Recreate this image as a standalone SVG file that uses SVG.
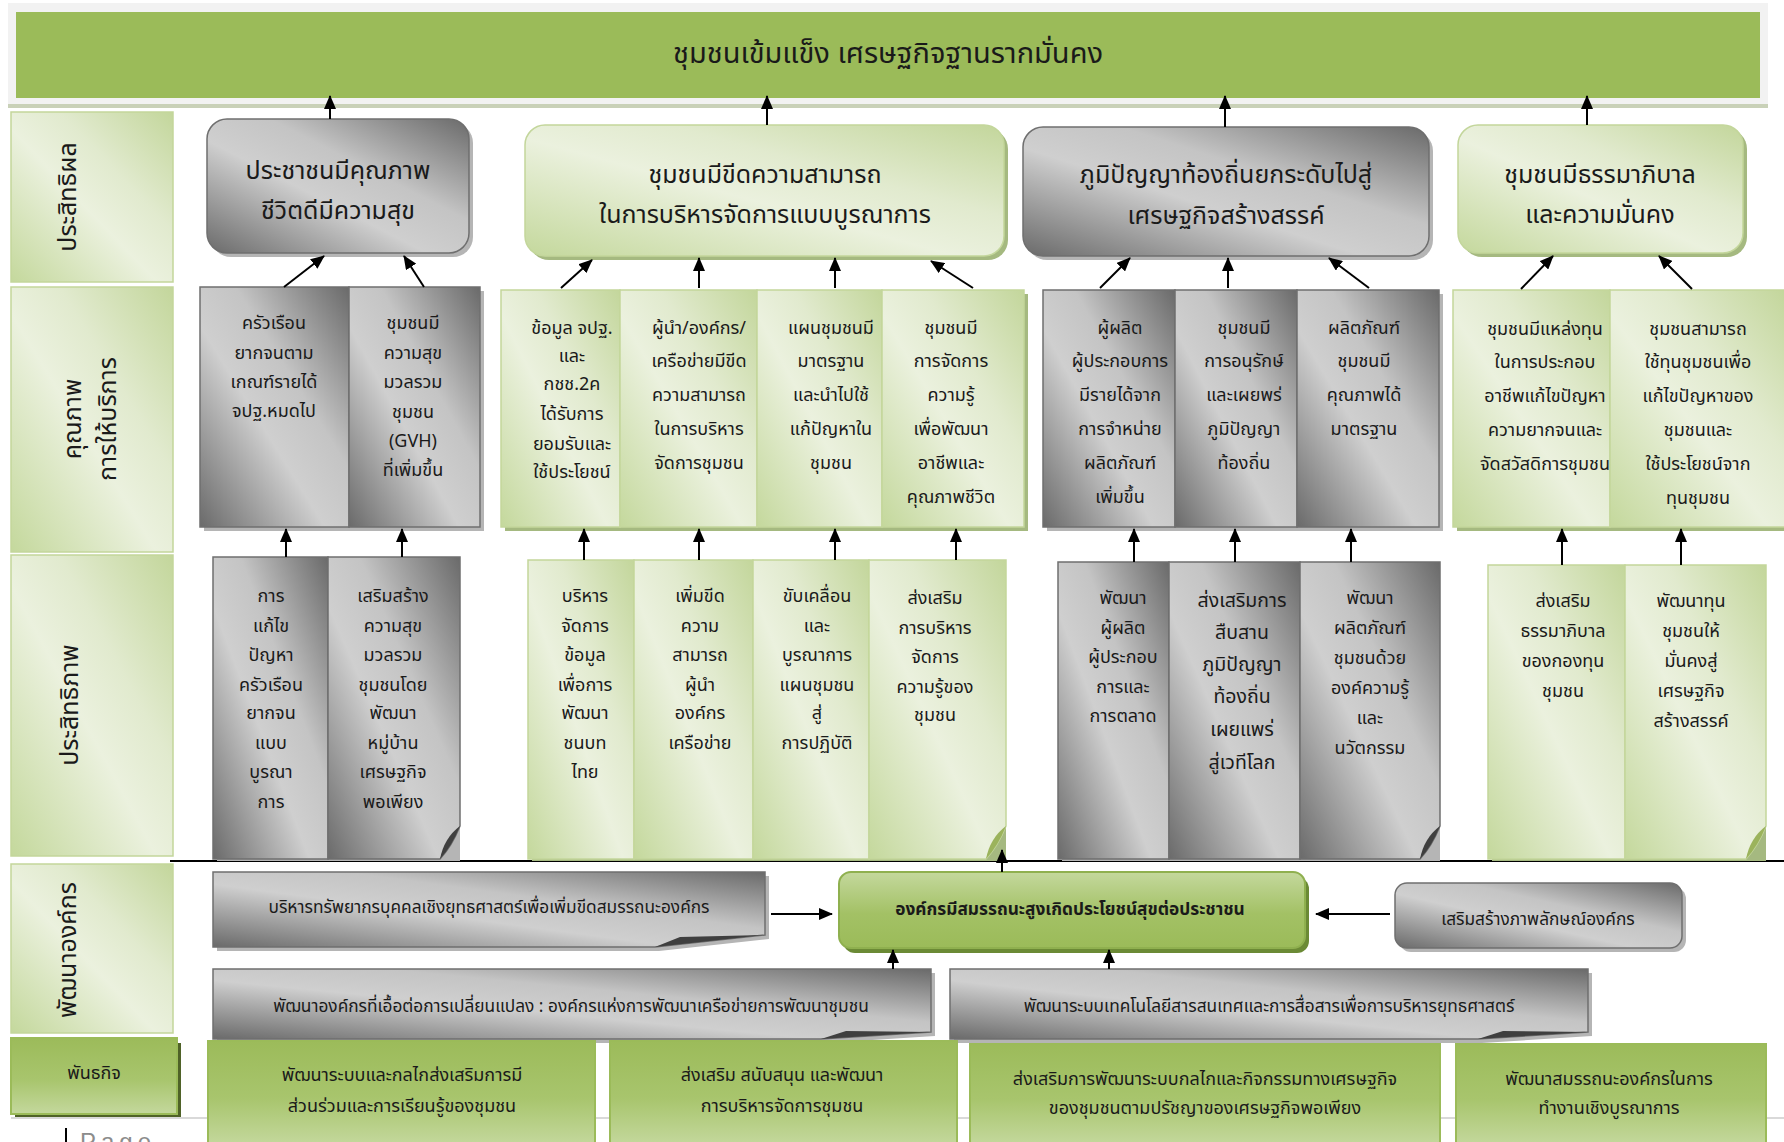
<svg xmlns="http://www.w3.org/2000/svg" width="1784" height="1142" viewBox="0 0 1784 1142">
<defs>
<linearGradient id="gGray" x1="0" y1="1" x2="1" y2="0">
<stop offset="0" stop-color="#6a6a6a"/><stop offset="0.42" stop-color="#cfcfcf"/><stop offset="0.62" stop-color="#c4c4c4"/><stop offset="1" stop-color="#6a6a6a"/>
</linearGradient>
<linearGradient id="gGreen" x1="0" y1="1" x2="1" y2="0">
<stop offset="0" stop-color="#c4d89c"/><stop offset="0.45" stop-color="#ebf1de"/><stop offset="0.65" stop-color="#e1eace"/><stop offset="1" stop-color="#c3d69b"/>
</linearGradient>
<linearGradient id="gDark" x1="0" y1="0" x2="0" y2="1">
<stop offset="0" stop-color="#9cbb5a"/><stop offset="0.55" stop-color="#a8c56d"/><stop offset="1" stop-color="#c4d89d"/>
</linearGradient>
<linearGradient id="gKey" x1="0" y1="0" x2="0" y2="1">
<stop offset="0" stop-color="#c4d89d"/><stop offset="0.55" stop-color="#a3c165"/><stop offset="1" stop-color="#9bbb59"/>
</linearGradient>
<marker id="ah" viewBox="0 0 14 12" refX="13" refY="6" markerWidth="14" markerHeight="12" markerUnits="userSpaceOnUse" orient="auto"><path d="M0 0 L14 6 L0 12 Z" fill="#000"/></marker>
<style>
.t{font-family:"Noto Sans Thai","Noto Sans","DejaVu Sans","Liberation Sans",sans-serif;fill:#1a1a1a;text-anchor:middle}
.s17{font-size:18px}
.s18{font-size:18px}
.so{font-size:17.3px}
.s24{font-size:25px}
.b{font-weight:bold}
.gry{fill:url(#gGray);stroke:#6f6f6f;stroke-width:1.5}
.grn{fill:url(#gGreen);stroke:#c3d69b;stroke-width:1.5}
.dk{fill:url(#gDark);stroke:#9bbb59;stroke-width:2}
.key{fill:url(#gKey);stroke:#8fb04f;stroke-width:2}
.sh{fill:#b5b5b5}
.shg{fill:#a5b980}
.fold{fill:#3f3f3f}
.foldg{fill:#9bb35c}
.con{stroke:#000;stroke-width:2;fill:none;marker-end:url(#ah)}
</style>
</defs>

<rect x="0" y="0" width="1784" height="1142" fill="#ffffff"/>

<!-- banner -->
<g id="banner">
<rect x="8" y="3" width="1760" height="103" fill="#f2f2f2"/>
<rect x="8" y="104" width="1760" height="4" fill="#c9d1b8"/>
<rect x="16" y="12" width="1744" height="86" fill="#9bbb59"/>
<text class="t" x="888" y="63" style="font-size:29px">ชุมชนเข้มแข็ง เศรษฐกิจฐานรากมั่นคง</text>
</g>

<!-- left labels -->
<g id="lbl-effectiveness">
<rect x="11" y="112" width="162" height="170" class="grn"/>
<text class="t s24" transform="rotate(-90 68 197)" x="68" y="205">ประสิทธิผล</text>
</g>
<g id="lbl-quality">
<rect x="11" y="287" width="162" height="265" class="grn"/>
<text class="t s24" transform="rotate(-90 73 419)" x="73" y="427">คุณภาพ</text>
<text class="t s24" transform="rotate(-90 108 419)" x="108" y="427">การให้บริการ</text>
</g>
<g id="lbl-efficiency">
<rect x="11" y="555" width="162" height="301" class="grn"/>
<text class="t s24" transform="rotate(-90 70 705)" x="70" y="713">ประสิทธิภาพ</text>
</g>
<g id="lbl-orgdev">
<rect x="11" y="864" width="162" height="169" class="grn"/>
<text class="t s24" transform="rotate(-90 68 950)" x="68" y="958">พัฒนาองค์กร</text>
</g>
<g id="lbl-mission">
<rect x="15" y="1043" width="166" height="76" fill="#4f6228"/>
<rect x="11" y="1038" width="166" height="76" class="dk"/>
<text class="t s18" x="94" y="1079">พันธกิจ</text>
</g>

<!-- separator and footer -->
<line x1="170" y1="861" x2="1784" y2="861" stroke="#000" stroke-width="2"/>
<line x1="11" y1="1118" x2="1784" y2="1118" stroke="#d9d9d9" stroke-width="2"/>
<line x1="66" y1="1128" x2="66" y2="1142" stroke="#000" stroke-width="2"/>
<text x="80" y="1150" style="font-family:'Liberation Sans',sans-serif;font-size:24px;letter-spacing:5px;fill:#8c8c8c">Page</text>

<!-- outcome boxes -->
<g id="out1">
<rect x="211" y="123" width="262" height="134" rx="20" class="sh"/>
<rect x="207" y="119" width="262" height="134" rx="20" class="gry" stroke-width="2.5"/>
<text class="t s24" x="338" y="179">ประชาชนมีคุณภาพ</text>
<text class="t s24" x="338" y="219">ชีวิตดีมีความสุข</text>
</g>
<g id="out2">
<rect x="529" y="129" width="479" height="131" rx="20" class="shg"/>
<rect x="525" y="125" width="479" height="131" rx="20" class="grn" stroke-width="2.5"/>
<text class="t s24" x="765" y="183">ชุมชนมีขีดความสามารถ</text>
<text class="t s24" x="765" y="223">ในการบริหารจัดการแบบบูรณาการ</text>
</g>
<g id="out3">
<rect x="1027" y="131" width="406" height="129" rx="20" class="sh"/>
<rect x="1023" y="127" width="406" height="129" rx="20" class="gry" stroke-width="2.5"/>
<text class="t s24" x="1226" y="183">ภูมิปัญญาท้องถิ่นยกระดับไปสู่</text>
<text class="t s24" x="1226" y="224">เศรษฐกิจสร้างสรรค์</text>
</g>
<g id="out4">
<rect x="1462" y="129" width="285" height="128" rx="20" class="shg"/>
<rect x="1458" y="125" width="285" height="128" rx="20" class="grn" stroke-width="2.5"/>
<text class="t s24" x="1600" y="183">ชุมชนมีธรรมาภิบาล</text>
<text class="t s24" x="1600" y="223">และความมั่นคง</text>
</g>

<!-- quality row -->
<g id="q-a">
<rect x="204" y="291" width="280" height="240" class="sh"/>
<rect x="200" y="287" width="149" height="240" class="gry"/>
<rect x="349" y="287" width="131" height="240" class="gry"/>
</g>
<g id="q-a1"><text class="t s17"><tspan x="274" y="329">ครัวเรือน</tspan><tspan x="274" y="359">ยากจนตาม</tspan><tspan x="274" y="388">เกณฑ์รายได้</tspan><tspan x="274" y="417">จปฐ.หมดไป</tspan></text></g>
<g id="q-a2"><text class="t s17"><tspan x="413" y="329">ชุมชนมี</tspan><tspan x="413" y="359">ความสุข</tspan><tspan x="413" y="388">มวลรวม</tspan><tspan x="413" y="418">ชุมชน</tspan><tspan x="413" y="447">(GVH)</tspan><tspan x="413" y="476">ที่เพิ่มขึ้น</tspan></text></g>

<g id="q-b">
<rect x="505" y="294" width="523" height="237" class="shg"/>
<rect x="501" y="290" width="119" height="237" class="grn"/>
<rect x="620" y="290" width="137" height="237" class="grn"/>
<rect x="757" y="290" width="125" height="237" class="grn"/>
<rect x="882" y="290" width="142" height="237" class="grn"/>
</g>
<g id="q-b1"><text class="t s17"><tspan x="572" y="334">ข้อมูล จปฐ.</tspan><tspan x="572" y="362">และ</tspan><tspan x="572" y="390">กชช.2ค</tspan><tspan x="572" y="420">ได้รับการ</tspan><tspan x="572" y="450">ยอมรับและ</tspan><tspan x="572" y="478">ใช้ประโยชน์</tspan></text></g>
<g id="q-b2"><text class="t s17"><tspan x="699" y="334">ผู้นำ/องค์กร/</tspan><tspan x="699" y="367">เครือข่ายมีขีด</tspan><tspan x="699" y="401">ความสามารถ</tspan><tspan x="699" y="435">ในการบริหาร</tspan><tspan x="699" y="469">จัดการชุมชน</tspan></text></g>
<g id="q-b3"><text class="t s17"><tspan x="831" y="334">แผนชุมชนมี</tspan><tspan x="831" y="367">มาตรฐาน</tspan><tspan x="831" y="401">และนำไปใช้</tspan><tspan x="831" y="435">แก้ปัญหาใน</tspan><tspan x="831" y="469">ชุมชน</tspan></text></g>
<g id="q-b4"><text class="t s17"><tspan x="951" y="334">ชุมชนมี</tspan><tspan x="951" y="367">การจัดการ</tspan><tspan x="951" y="401">ความรู้</tspan><tspan x="951" y="435">เพื่อพัฒนา</tspan><tspan x="951" y="469">อาชีพและ</tspan><tspan x="951" y="503">คุณภาพชีวิต</tspan></text></g>

<g id="q-c">
<rect x="1047" y="294" width="396" height="237" class="sh"/>
<rect x="1043" y="290" width="132" height="237" class="gry"/>
<rect x="1175" y="290" width="122" height="237" class="gry"/>
<rect x="1297" y="290" width="142" height="237" class="gry"/>
</g>
<g id="q-c1"><text class="t s17"><tspan x="1120" y="334">ผู้ผลิต</tspan><tspan x="1120" y="367">ผู้ประกอบการ</tspan><tspan x="1120" y="401">มีรายได้จาก</tspan><tspan x="1120" y="435">การจำหน่าย</tspan><tspan x="1120" y="469">ผลิตภัณฑ์</tspan><tspan x="1120" y="503">เพิ่มขึ้น</tspan></text></g>
<g id="q-c2"><text class="t s17"><tspan x="1244" y="334">ชุมชนมี</tspan><tspan x="1244" y="367">การอนุรักษ์</tspan><tspan x="1244" y="401">และเผยพร่</tspan><tspan x="1244" y="435">ภูมิปัญญา</tspan><tspan x="1244" y="469">ท้องถิ่น</tspan></text></g>
<g id="q-c3"><text class="t s17"><tspan x="1364" y="334">ผลิตภัณฑ์</tspan><tspan x="1364" y="367">ชุมชนมี</tspan><tspan x="1364" y="401">คุณภาพได้</tspan><tspan x="1364" y="435">มาตรฐาน</tspan></text></g>

<g id="q-d">
<rect x="1457" y="294" width="327" height="237" class="shg"/>
<rect x="1453" y="290" width="157" height="237" class="grn"/>
<rect x="1610" y="290" width="176" height="237" class="grn"/>
</g>
<g id="q-d1"><text class="t s17"><tspan x="1545" y="335">ชุมชนมีแหล่งทุน</tspan><tspan x="1545" y="368">ในการประกอบ</tspan><tspan x="1545" y="402">อาชีพแก้ไขปัญหา</tspan><tspan x="1545" y="436">ความยากจนและ</tspan><tspan x="1545" y="470">จัดสวัสดิการชุมชน</tspan></text></g>
<g id="q-d2"><text class="t s17"><tspan x="1698" y="335">ชุมชนสามารถ</tspan><tspan x="1698" y="368">ใช้ทุนชุมชนเพื่อ</tspan><tspan x="1698" y="402">แก้ไขปัญหาของ</tspan><tspan x="1698" y="436">ชุมชนและ</tspan><tspan x="1698" y="470">ใช้ประโยชน์จาก</tspan><tspan x="1698" y="504">ทุนชุมชน</tspan></text></g>

<!-- efficiency row -->
<g id="e-a">
<rect x="217" y="561" width="243" height="300" class="sh"/>
<rect x="213" y="557" width="115" height="302" class="gry"/>
<path d="M328 557 H460 V826 Q452 846 440 859 H328 Z" class="gry"/>
<path d="M440 859 Q444 838 460 826 Q452 846 440 859 Z" class="fold"/>
</g>
<g id="e-a1"><text class="t s17"><tspan x="271" y="602">การ</tspan><tspan x="271" y="632">แก้ไข</tspan><tspan x="271" y="661">ปัญหา</tspan><tspan x="271" y="691">ครัวเรือน</tspan><tspan x="271" y="719">ยากจน</tspan><tspan x="271" y="749">แบบ</tspan><tspan x="271" y="778">บูรณา</tspan><tspan x="271" y="808">การ</tspan></text></g>
<g id="e-a2"><text class="t s17"><tspan x="393" y="602">เสริมสร้าง</tspan><tspan x="393" y="632">ความสุข</tspan><tspan x="393" y="661">มวลรวม</tspan><tspan x="393" y="691">ชุมชนโดย</tspan><tspan x="393" y="719">พัฒนา</tspan><tspan x="393" y="749">หมู่บ้าน</tspan><tspan x="393" y="778">เศรษฐกิจ</tspan><tspan x="393" y="808">พอเพียง</tspan></text></g>

<g id="e-b">
<rect x="532" y="564" width="474" height="297" class="shg"/>
<rect x="528" y="560" width="106" height="299" class="grn"/>
<rect x="634" y="560" width="119" height="299" class="grn"/>
<rect x="753" y="560" width="116" height="299" class="grn"/>
<path d="M869 560 H1006 V826 Q998 846 986 859 H869 Z" class="grn"/>
<path d="M986 859 Q990 838 1006 826 Q998 846 986 859 Z" class="foldg"/>
</g>
<g id="e-b1"><text class="t s17"><tspan x="585" y="602">บริหาร</tspan><tspan x="585" y="632">จัดการ</tspan><tspan x="585" y="661">ข้อมูล</tspan><tspan x="585" y="691">เพื่อการ</tspan><tspan x="585" y="719">พัฒนา</tspan><tspan x="585" y="749">ชนบท</tspan><tspan x="585" y="778">ไทย</tspan></text></g>
<g id="e-b2"><text class="t s17"><tspan x="700" y="602">เพิ่มขีด</tspan><tspan x="700" y="632">ความ</tspan><tspan x="700" y="661">สามารถ</tspan><tspan x="700" y="691">ผู้นำ</tspan><tspan x="700" y="719">องค์กร</tspan><tspan x="700" y="749">เครือข่าย</tspan></text></g>
<g id="e-b3"><text class="t s17"><tspan x="817" y="602">ขับเคลื่อน</tspan><tspan x="817" y="632">และ</tspan><tspan x="817" y="661">บูรณาการ</tspan><tspan x="817" y="691">แผนชุมชน</tspan><tspan x="817" y="719">สู่</tspan><tspan x="817" y="749">การปฏิบัติ</tspan></text></g>
<g id="e-b4"><text class="t s17"><tspan x="935" y="604">ส่งเสริม</tspan><tspan x="935" y="634">การบริหาร</tspan><tspan x="935" y="663">จัดการ</tspan><tspan x="935" y="693">ความรู้ของ</tspan><tspan x="935" y="721">ชุมชน</tspan></text></g>

<g id="e-c">
<rect x="1062" y="566" width="378" height="295" class="sh"/>
<rect x="1058" y="562" width="111" height="297" class="gry"/>
<rect x="1169" y="562" width="131" height="297" class="gry"/>
<path d="M1300 562 H1440 V826 Q1432 846 1420 859 H1300 Z" class="gry"/>
<path d="M1420 859 Q1424 838 1440 826 Q1432 846 1420 859 Z" class="fold"/>
</g>
<g id="e-c1"><text class="t s17"><tspan x="1123" y="604">พัฒนา</tspan><tspan x="1123" y="634">ผู้ผลิต</tspan><tspan x="1123" y="663">ผู้ประกอบ</tspan><tspan x="1123" y="693">การและ</tspan><tspan x="1123" y="722">การตลาด</tspan></text></g>
<g id="e-c2"><text class="t" style="font-size:19.5px"><tspan x="1242" y="607">ส่งเสริมการ</tspan><tspan x="1242" y="639">สืบสาน</tspan><tspan x="1242" y="671">ภูมิปัญญา</tspan><tspan x="1242" y="703">ท้องถิ่น</tspan><tspan x="1242" y="736">เผยแพร่</tspan><tspan x="1242" y="769">สู่เวทีโลก</tspan></text></g>
<g id="e-c3"><text class="t s17"><tspan x="1370" y="604">พัฒนา</tspan><tspan x="1370" y="634">ผลิตภัณฑ์</tspan><tspan x="1370" y="664">ชุมชนด้วย</tspan><tspan x="1370" y="694">องค์ความรู้</tspan><tspan x="1370" y="724">และ</tspan><tspan x="1370" y="754">นวัตกรรม</tspan></text></g>

<g id="e-d">
<rect x="1492" y="569" width="274" height="292" class="shg"/>
<rect x="1488" y="565" width="137" height="294" class="grn"/>
<path d="M1625 565 H1766 V826 Q1758 846 1746 859 H1625 Z" class="grn"/>
<path d="M1746 859 Q1750 838 1766 826 Q1758 846 1746 859 Z" class="foldg"/>
</g>
<g id="e-d1"><text class="t s17"><tspan x="1563" y="607">ส่งเสริม</tspan><tspan x="1563" y="637">ธรรมาภิบาล</tspan><tspan x="1563" y="667">ของกองทุน</tspan><tspan x="1563" y="697">ชุมชน</tspan></text></g>
<g id="e-d2"><text class="t s17"><tspan x="1691" y="607">พัฒนาทุน</tspan><tspan x="1691" y="637">ชุมชนให้</tspan><tspan x="1691" y="667">มั่นคงสู่</tspan><tspan x="1691" y="697">เศรษฐกิจ</tspan><tspan x="1691" y="727">สร้างสรรค์</tspan></text></g>

<!-- org development row -->
<g id="o-hr">
<path d="M217 876 H769 V939 L659 951 H217 Z" class="sh"/>
<path d="M213 872 H765 V935 L655 947 H213 Z" class="gry"/>
<path d="M655 947 L680 937 L765 935 Z" class="fold"/>
<text class="t so" x="489" y="913">บริหารทรัพยากรบุคคลเชิงยุทธศาสตร์เพื่อเพิ่มขีดสมรรถนะองค์กร</text>
</g>
<g id="o-key">
<rect x="843" y="877" width="466" height="76" rx="12" fill="#6b8a35"/>
<rect x="839" y="872" width="466" height="76" rx="12" class="key"/>
<text class="t so b" x="1070" y="915">องค์กรมีสมรรถนะสูงเกิดประโยชน์สุขต่อประชาชน</text>
</g>
<g id="o-image">
<rect x="1399" y="887" width="287" height="65" rx="12" class="sh"/>
<rect x="1395" y="883" width="287" height="65" rx="12" class="gry" stroke-width="2"/>
<text class="t so" x="1538" y="925">เสริมสร้างภาพลักษณ์องค์กร</text>
</g>
<g id="o-change">
<path d="M217 973 H935 V1036 L825 1043 H217 Z" class="sh"/>
<path d="M213 969 H931 V1032 L821 1039 H213 Z" class="gry"/>
<path d="M821 1039 L846 1031 L931 1032 Z" class="fold"/>
<text class="t so" x="571" y="1012">พัฒนาองค์กรที่เอื้อต่อการเปลี่ยนแปลง : องค์กรแห่งการพัฒนาเครือข่ายการพัฒนาชุมชน</text>
</g>
<g id="o-it">
<path d="M954 973 H1592 V1036 L1482 1043 H954 Z" class="sh"/>
<path d="M950 969 H1588 V1032 L1478 1039 H950 Z" class="gry"/>
<path d="M1478 1039 L1503 1031 L1588 1032 Z" class="fold"/>
<text class="t so" x="1269" y="1012">พัฒนาระบบเทคโนโลยีสารสนเทศและการสื่อสารเพื่อการบริหารยุทธศาสตร์</text>
</g>

<!-- mission row -->
<g id="m1">
<rect x="208" y="1041" width="387" height="104" class="dk"/>
<text class="t s18"><tspan x="402" y="1081">พัฒนาระบบและกลไกส่งเสริมการมี</tspan><tspan x="402" y="1112">ส่วนร่วมและการเรียนรู้ของชุมชน</tspan></text>
</g>
<g id="m2">
<rect x="610" y="1041" width="347" height="104" class="dk"/>
<text class="t s18"><tspan x="782" y="1081">ส่งเสริม สนับสนุน และพัฒนา</tspan><tspan x="782" y="1112">การบริหารจัดการชุมชน</tspan></text>
</g>
<g id="m3">
<rect x="970" y="1044" width="470" height="101" class="dk"/>
<text class="t s18"><tspan x="1205" y="1085">ส่งเสริมการพัฒนาระบบกลไกและกิจกรรมทางเศรษฐกิจ</tspan><tspan x="1205" y="1114">ของชุมชนตามปรัชญาของเศรษฐกิจพอเพียง</tspan></text>
</g>
<g id="m4">
<rect x="1456" y="1044" width="310" height="101" class="dk"/>
<text class="t s18"><tspan x="1609" y="1085">พัฒนาสมรรถนะองค์กรในการ</tspan><tspan x="1609" y="1114">ทำงานเชิงบูรณาการ</tspan></text>
</g>

<!-- connectors -->
<g id="connectors">
<line class="con" x1="330" y1="119" x2="330" y2="96"/>
<line class="con" x1="767" y1="125" x2="767" y2="96"/>
<line class="con" x1="1225" y1="127" x2="1225" y2="96"/>
<line class="con" x1="1587" y1="125" x2="1587" y2="96"/>

<line class="con" x1="284" y1="287" x2="324" y2="256"/>
<line class="con" x1="424" y1="287" x2="404" y2="256"/>
<line class="con" x1="561" y1="288" x2="592" y2="260"/>
<line class="con" x1="699" y1="288" x2="699" y2="258"/>
<line class="con" x1="835" y1="288" x2="835" y2="258"/>
<line class="con" x1="973" y1="288" x2="931" y2="261"/>
<line class="con" x1="1100" y1="288" x2="1130" y2="258"/>
<line class="con" x1="1228" y1="288" x2="1228" y2="258"/>
<line class="con" x1="1369" y1="288" x2="1329" y2="258"/>
<line class="con" x1="1521" y1="289" x2="1553" y2="256"/>
<line class="con" x1="1692" y1="289" x2="1659" y2="256"/>

<line class="con" x1="286" y1="557" x2="286" y2="529"/>
<line class="con" x1="402" y1="557" x2="402" y2="529"/>
<line class="con" x1="584" y1="560" x2="584" y2="529"/>
<line class="con" x1="699" y1="560" x2="699" y2="529"/>
<line class="con" x1="835" y1="560" x2="835" y2="529"/>
<line class="con" x1="956" y1="560" x2="956" y2="529"/>
<line class="con" x1="1134" y1="562" x2="1134" y2="529"/>
<line class="con" x1="1235" y1="562" x2="1235" y2="529"/>
<line class="con" x1="1351" y1="562" x2="1351" y2="529"/>
<line class="con" x1="1562" y1="565" x2="1562" y2="529"/>
<line class="con" x1="1681" y1="565" x2="1681" y2="529"/>

<line class="con" x1="1002" y1="872" x2="1002" y2="850"/>
<line class="con" x1="771" y1="914" x2="832" y2="914"/>
<line class="con" x1="1390" y1="914" x2="1316" y2="914"/>
<line class="con" x1="893" y1="969" x2="893" y2="950"/>
<line class="con" x1="1109" y1="969" x2="1109" y2="950"/>
</g>
</svg>
